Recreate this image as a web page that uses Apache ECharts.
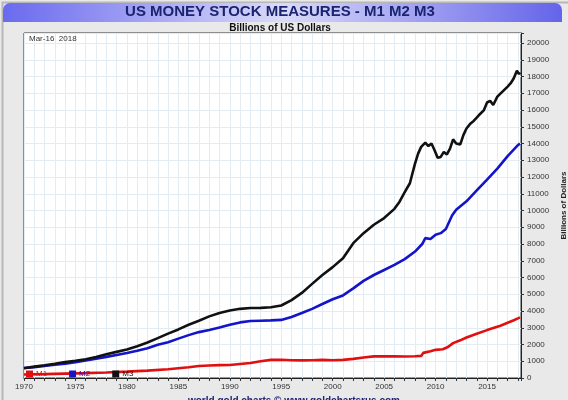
<!DOCTYPE html>
<html>
<head>
<meta charset="utf-8">
<script src="https://cdn.jsdelivr.net/npm/echarts@6/dist/echarts.min.js"></script>
<style>
html,body{margin:0;padding:0;background:#e9e9e9;}
#c{width:568px;height:400px;}
</style>
</head>
<body>
<div id="c"></div>
<script>
// M1 (red)
const m1Years = [1970,1972,1974,1976,1978,1980,1982,1984,1986,1987,1988,1989,1990,1991,1992,1993,1994,1995,1996,1997,1998,1999,2000,2001,2002,2003,2004,2005,2006,2007,2008,2008.6,2008.8,2009.5,2010,2010.7,2011.2,2011.7,2012.4,2013,2014,2015,2016.3,2017,2017.6,2018,2018.2];
const m1Values = [210,230,260,290,330,380,440,520,640,720,750,770,780,840,900,1000,1080,1090,1060,1050,1060,1080,1060,1080,1140,1220,1290,1290,1290,1280,1300,1320,1500,1600,1680,1720,1850,2080,2250,2420,2640,2860,3120,3300,3450,3560,3620];

// M2 (blue)
const m2Years = [1970,1971,1972,1973,1974,1975,1976,1977,1978,1979,1980,1981,1982,1983,1984,1985,1986,1987,1988,1989,1990,1991,1992,1993,1994,1995,1996,1997,1998,1999,2000,2001,2002,2003,2004,2005,2006,2007,2008,2008.7,2009,2009.5,2010,2010.5,2011,2011.6,2012,2013,2014,2015,2016,2017,2018,2018.2];
const m2Values = [600,650,720,790,860,940,1040,1150,1260,1370,1490,1630,1780,1990,2130,2350,2560,2740,2870,3010,3180,3320,3400,3420,3440,3470,3640,3880,4130,4420,4700,4930,5350,5800,6150,6450,6750,7100,7550,8000,8350,8300,8550,8650,8900,9700,10050,10550,11200,11850,12500,13250,13900,14000];

// M3 (black)
const m3Years = [1970,1971,1972,1973,1974,1975,1976,1977,1978,1979,1980,1981,1982,1983,1984,1985,1986,1987,1988,1989,1990,1991,1992,1993,1994,1995,1996,1997,1998,1999,2000,2001,2002,2003,2004,2005,2006,2006.5,2007,2007.5,2008,2008.3,2008.6,2009,2009.3,2009.6,2009.9,2010.2,2010.5,2010.8,2011.1,2011.4,2011.7,2012,2012.4,2012.7,2013,2013.4,2013.7,2014,2014.3,2014.7,2015,2015.3,2015.6,2016,2016.5,2017,2017.3,2017.6,2017.9,2018.1,2018.2];
const m3Values = [580,680,760,850,950,1030,1120,1260,1420,1560,1700,1900,2120,2380,2650,2900,3180,3420,3680,3880,4030,4130,4180,4190,4220,4330,4650,5080,5620,6150,6620,7150,8050,8650,9150,9550,10100,10530,11100,11630,12800,13400,13800,14050,13850,14000,13600,13150,13200,13500,13350,13700,14250,14000,13950,14500,14900,15200,15350,15550,15750,16000,16450,16550,16300,16800,17100,17400,17600,17900,18350,18150,18250];

const xTickLabels = [1970,1975,1980,1985,1990,1995,2000,2005,2010,2015];
const yTickLabels = [0,1000,2000,3000,4000,5000,6000,7000,8000,9000,10000,11000,12000,13000,14000,15000,16000,17000,18000,19000,20000];

const zip = (xs, ys) => xs.map((x, i) => [x, ys[i]]);

const chart = echarts.init(document.getElementById('c'), null, {renderer: 'canvas'});
const FONT = 'Liberation Sans, Arial, sans-serif';
const NAVY = '#1b2470';

chart.setOption({
  animation: false,
  backgroundColor: '#e9e9e9',
  textStyle: {fontFamily: FONT},
  graphic: [
    {type: 'rect', left: 0, top: 0, z: -10, shape: {width: 567, height: 400},
     style: {fill: 'none', stroke: '#b8b8b8', lineWidth: 2}},
    {type: 'rect', x: 3, y: 3, z: -5, shape: {width: 559, height: 19, r: [7, 7, 0, 0]},
     style: {fill: new echarts.graphic.LinearGradient(0, 0, 1, 0, [
       {offset: 0, color: '#6a6aef'},
       {offset: 0.5, color: '#dadaf9'},
       {offset: 1, color: '#6464ea'}
     ])}},
    {type: 'text', x: 280, y: 12, style: {text: 'US MONEY STOCK MEASURES - M1 M2 M3', fill: NAVY,
      font: 'bold 15px ' + FONT, textAlign: 'center', textVerticalAlign: 'middle'}},
    {type: 'text', x: 280, y: 28, style: {text: 'Billions of US Dollars', fill: '#111',
      font: 'bold 10px ' + FONT, textAlign: 'center', textVerticalAlign: 'middle'}},
    {type: 'text', x: 29, y: 35, z: 10, style: {text: 'Mar-16  2018', fill: '#333',
      font: '8px ' + FONT}},
    {type: 'text', x: 294, y: 396, style: {text: 'world gold charts \u00a9 www.goldchartsrus.com', fill: NAVY,
      font: 'bold 10px ' + FONT, textAlign: 'center'}}
  ],
  grid: {left: 24, right: 47, top: 33, bottom: 22, show: true, backgroundColor: '#fff',
         borderColor: '#333', borderWidth: 1, containLabel: false, outerBoundsMode: 'none'},
  legend: {
    left: 26, top: 370, padding: 0, itemWidth: 7, itemHeight: 7, itemGap: 22,
    icon: 'rect',
    textStyle: {fontSize: 8, padding: [0, 0, 0, -2]},
    data: [
      {name: 'M1', textStyle: {color: '#e01010'}},
      {name: 'M2', textStyle: {color: '#1414c8'}},
      {name: 'M3', textStyle: {color: '#111'}}
    ]
  },
  xAxis: {
    type: 'value', min: 1970, max: 2018.3, interval: 1,
    axisLine: {lineStyle: {color: '#222'}},
    axisTick: {show: true, length: 3, lineStyle: {color: '#333'}},
    axisLabel: {fontSize: 8, color: '#333', margin: 5,
      formatter: v => xTickLabels.includes(Math.round(v * 1000) / 1000) ? String(v) : ''},
    splitLine: {show: true, lineStyle: {color: '#e3ebf3', width: 1}}
  },
  yAxis: {
    type: 'value', position: 'right', min: 0, max: 20600, interval: 1000,
    name: 'Billions of Dollars', nameLocation: 'middle', nameRotate: 90, nameGap: 33,
    nameTextStyle: {fontSize: 8, fontWeight: 'bold', color: '#222'},
    axisLine: {show: true, lineStyle: {color: '#222'}},
    axisTick: {show: true, length: 3, lineStyle: {color: '#333'}},
    axisLabel: {fontSize: 8, color: '#333', margin: 6,
      formatter: v => yTickLabels.includes(v) ? String(v) : ''},
    splitLine: {show: true, lineStyle: {color: '#e3ebf3', width: 1}}
  },
  series: [
    {name: 'M1', type: 'line', data: zip(m1Years, m1Values), showSymbol: false,
     color: '#e01010', lineStyle: {width: 2.6, color: '#e01010'}},
    {name: 'M2', type: 'line', data: zip(m2Years, m2Values), showSymbol: false,
     color: '#1414c8', lineStyle: {width: 2.6, color: '#1414c8'}},
    {name: 'M3', type: 'line', data: zip(m3Years, m3Values), showSymbol: false,
     color: '#111', lineStyle: {width: 2.6, color: '#111'}}
  ]
});
</script>
</body>
</html>
